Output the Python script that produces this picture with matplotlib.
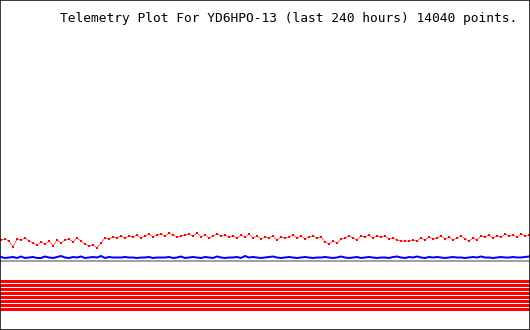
# Telemetry plot, YD6HPO-13, last 240 hours
import numpy as np
import matplotlib
matplotlib.use("Agg")
import matplotlib.pyplot as plt

title = "Telemetry Plot For YD6HPO-13 (last 240 hours) 14040 points."

# sample positions across the 240 h window (plot units)
t = np.arange(1, 530, 4)

# channel 1 (red)
ch1 = [90, 91, 89, 83, 91, 90, 92, 89,
       87, 85, 88, 86, 89, 84, 90, 87,
       90, 91, 88, 92, 89, 86, 84, 85,
       82, 87, 92, 91, 93, 92, 94, 92,
       94, 93, 95, 92, 94, 96, 93, 95,
       96, 94, 97, 95, 93, 94, 95, 96,
       94, 97, 93, 95, 92, 94, 96, 94,
       95, 93, 94, 92, 95, 93, 96, 92,
       94, 91, 93, 92, 94, 90, 93, 92,
       93, 95, 92, 94, 91, 93, 94, 92,
       93, 88, 86, 89, 87, 91, 92, 94,
       92, 90, 94, 93, 95, 92, 94, 93,
       94, 91, 92, 90, 89, 89, 89, 90,
       89, 92, 90, 93, 91, 92, 94, 91,
       93, 90, 92, 94, 91, 89, 92, 90,
       94, 93, 95, 92, 94, 93, 96, 94,
       95, 93, 96, 94, 95]

# channel 2 (blue)
ch2 = [73, 72, 72.5, 73, 72, 73.5, 72, 72.5,
       73, 72, 72, 73.5, 72.5, 72, 73, 74,
       72.5, 72, 73, 72.5, 73.5, 72, 72.5, 73,
       72.5, 74, 72, 73, 72.5, 72.5, 72.5, 73,
       72.5, 72.5, 72, 72.5, 72.5, 73, 72, 72.5,
       72.5, 72.5, 73, 72, 72.5, 73.5, 72, 72.5,
       73, 72.5, 72, 73, 72.5, 72, 73.5, 72.5,
       72, 72.5, 72.5, 73, 72, 74, 72.5, 73,
       72.5, 72, 72.5, 73, 73.5, 72.5, 72, 72.5,
       73, 72.5, 72, 72.5, 73, 72.5, 72, 72.5,
       72.5, 73, 72.5, 72, 72.5, 73.5, 72.5, 72,
       72.5, 73, 72, 72.5, 73, 72.5, 72, 72.5,
       72.5, 72, 73, 73.5, 72.5, 72, 73, 72.5,
       73.5, 72.5, 72, 73, 72.5, 73, 72.5, 72,
       72.5, 73, 72.5, 72.5, 72, 72.5, 73, 72.5,
       73.5, 72.5, 72.5, 72, 72.5, 73, 72.5, 72.5,
       73, 72.5, 72.5, 73, 73.5]

ref_level = 69.5                                  # grey baseline
bit_levels = [48.5, 44.5, 40.5, 36.5, 32.5, 28.5, 24.5, 20.5]   # status channels

px = 0.72   # one pixel in points at dpi 100

f = plt.figure(figsize=(5.3, 3.3), dpi=100, facecolor='w')
ax = f.add_axes([0, 0, 1, 1])
ax.set_xlim(0, 530)
ax.set_ylim(0, 330)

for lvl in bit_levels:
    ax.axhspan(lvl - 1.5, lvl + 1.5, color='#ff0000', lw=0)

ax.axhspan(ref_level - 1, ref_level + 1, color='#a0a0a0', lw=0)

ax.plot(t, ch2, '-', color='#0000ff', lw=2 * px)
ax.plot(t, ch1, '-', color='#ff0000', lw=0.6 * px)
ax.plot(t, ch1, 's', color='#ff0000', ms=2 * px, mew=0)

ax.text(60, 308, title, family='DejaVu Sans Mono', fontsize=9.3, va='baseline', ha='left')

ax.set_xticks([])
ax.set_yticks([])
for s in ax.spines.values():
    s.set_color('black')
    s.set_linewidth(1.5 * px)

f.savefig('out.png', dpi=100, facecolor='w')
